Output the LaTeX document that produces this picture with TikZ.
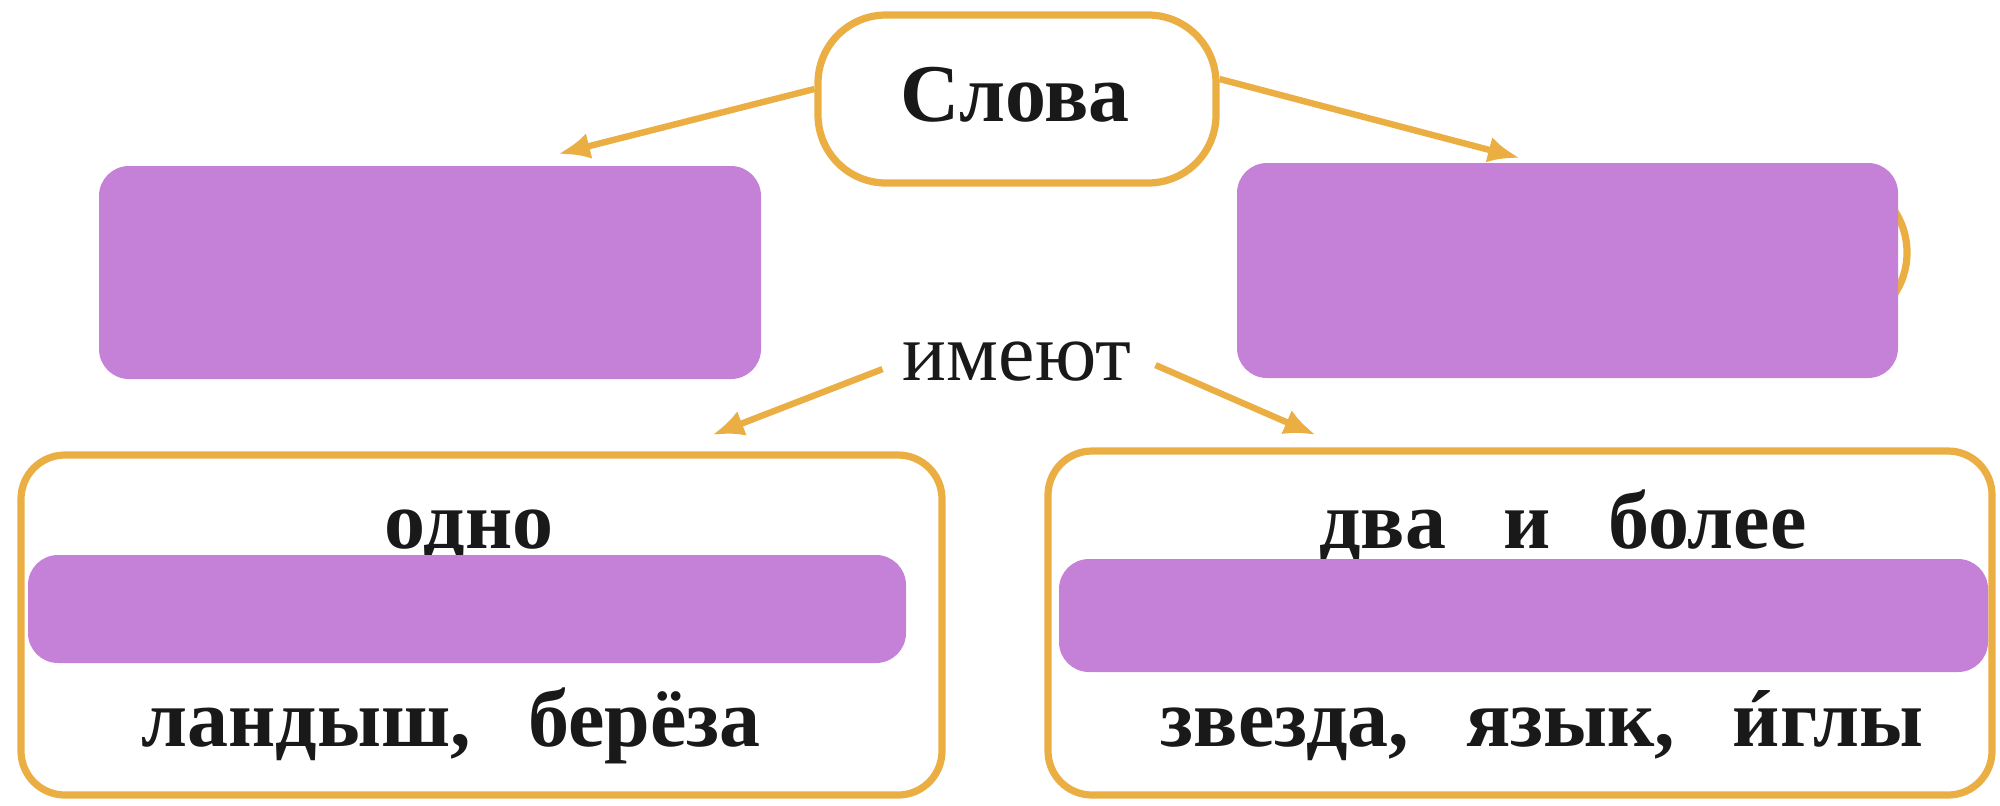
\documentclass[tikz,border=0pt]{standalone}
\usepackage{fontspec}
\setmainfont{Liberation Serif}
\usetikzlibrary{arrows.meta}
\definecolor{ora}{RGB}{234,174,66}
\definecolor{pur}{RGB}{197,128,216}
\newcommand{\accI}{{\ooalign{и\cr\hidewidth\kern0.08em\raisebox{-0.02em}{´}\hidewidth\cr}}}
\tikzset{
  obox/.style={draw=ora, line width=3.6pt, fill=white, inner sep=0pt},
  pbox/.style={fill=pur, draw=none, inner sep=0pt, rounded corners=15pt},
  txt/.style={inner sep=0pt, anchor=base, font=\bfseries\fontsize{41}{41}\selectfont, text=black!90},
  arr/.style={draw=ora, line width=3.2pt, -{Latex[length=16pt,width=13pt]}}
}
\begin{document}
\begin{tikzpicture}[x=0.5pt,y=-0.5pt]
\useasboundingbox (0,0) rectangle (2000,805);
\fill[white] (0,0) rectangle (2000,805);
% top node
\node[obox, rounded corners=34pt, minimum width=199pt, minimum height=84pt] (slova) at (1017,99) {};
\node[txt] (slovat) at (1015,121) {Слова};
% hidden box behind the right purple box
\node[obox, rounded corners=38pt, minimum width=330pt, minimum height=76pt] (rbox) at (1577,252.5) {};
% purple masks on top
\node[pbox, minimum width=331pt, minimum height=106.5pt] (lp) at (430,272.5) {};
\node[pbox, minimum width=330.5pt, minimum height=107.5pt] (rp) at (1567.5,270.5) {};
% middle word
\node[txt, font=\fontsize{41}{41}\selectfont] (imeyut) at (1017,380) {имеют};
% bottom boxes
\node[obox, rounded corners=22pt, minimum width=460.5pt, minimum height=170pt] (bl) at (481.5,625) {};
\node[obox, rounded corners=22pt, minimum width=472pt, minimum height=172pt] (br) at (1520,623) {};
\node[txt] (odno) at (469,548) {одно};
\node[pbox, minimum width=439pt, minimum height=54pt] (barl) at (467,609) {};
\node[txt] (ex1) at (451,746) {ландыш,\hspace{0.7em}берёза};
\node[txt] (dva) at (1563,548) {два\hspace{0.7em}и\hspace{0.7em}более};
\node[pbox, minimum width=464.5pt, minimum height=56.5pt] (barr) at (1523.5,615.5) {};
\node[txt] (ex2) at (1542,746) {звезда,\hspace{0.7em}язык,\hspace{0.7em}\accI глы};
% arrow ends
\coordinate (t1) at (558,154);
\coordinate (t2) at (1520,158);
\coordinate (t3) at (712,435);
\coordinate (t4) at (1316,435);
\draw[arr] ([yshift=5pt]slova.west) -- (t1);
\draw[arr] ([yshift=10pt]slova.east) -- (t2);
\draw[arr] ([xshift=-10pt,yshift=-4pt]imeyut.west) -- (t3);
\draw[arr] ([xshift=12pt,yshift=-2pt]imeyut.east) -- (t4);
\end{tikzpicture}
\end{document}
